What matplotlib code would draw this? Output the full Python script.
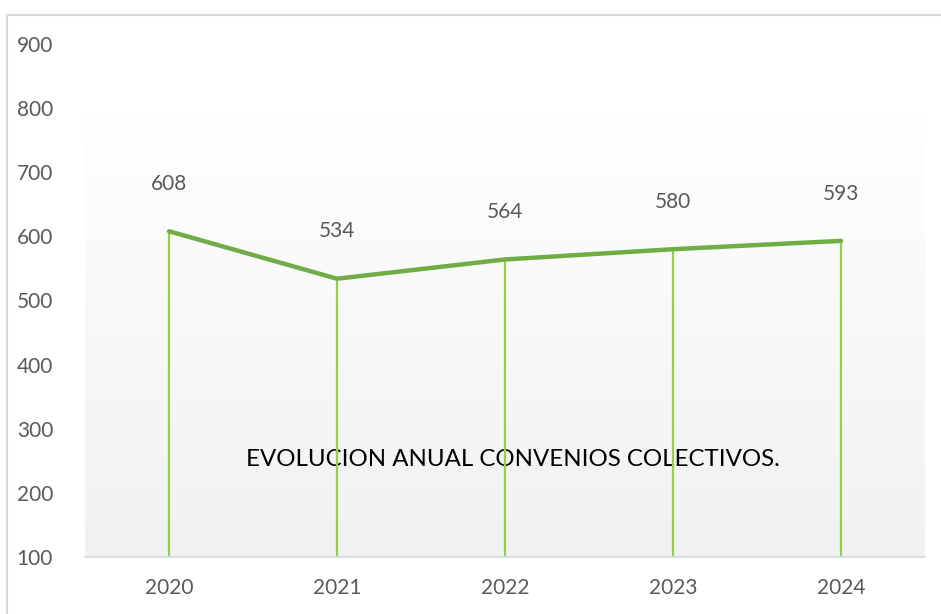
import matplotlib
matplotlib.use("Agg")
import matplotlib.pyplot as plt
import numpy as np
from matplotlib.patches import Rectangle
from matplotlib.colors import LinearSegmentedColormap

years = ["2020", "2021", "2022", "2023", "2024"]
values = [608, 534, 564, 580, 593]
yticks = [100, 200, 300, 400, 500, 600, 700, 800, 900]
title = "EVOLUCION ANUAL CONVENIOS COLECTIVOS."

W, H = 941, 614
fig = plt.figure(figsize=(W / 100, H / 100), dpi=100)
fig.patch.set_facecolor("white")

# outer chart border
fig.add_artist(Rectangle((7 / W, -0.1), 1.2, 1 - 15 / H + 0.1, transform=fig.transFigure,
                         fill=False, edgecolor="#d9d9d9", linewidth=1.5))

ax = fig.add_axes([85 / W, 1 - 557 / H, (925 - 85) / W, (557 - 44) / H])
ax.set_facecolor("none")
x = np.arange(len(years))
ax.set_xlim(-0.5, len(years) - 0.5)
ax.set_ylim(100, 900)

# gradient background
grad = np.linspace(0, 1, 256).reshape(-1, 1)
cmap = LinearSegmentedColormap.from_list("g", ["#f1f1f1", "#ffffff"])
ax.imshow(grad, extent=(-0.5, len(years) - 0.5, 100, 795), origin="lower",
          aspect="auto", cmap=cmap, zorder=0)

tick_font = ["Lato", "DejaVu Sans"]

# title inside plot
t = ax.text(2.05, 252, title, ha="center", va="center", color="black",
            fontsize=20, family=["Lato", "DejaVu Sans"], zorder=1)
fig.canvas.draw()
bb = t.get_window_extent()
t.set_fontsize(20 * 532 / bb.width)

# drop lines
ax.vlines(x, 100, values, color="#92D050", linewidth=1.6, zorder=2)
ax.plot(x, values, color="#70AD47", linewidth=3.2, zorder=3, solid_capstyle="round", solid_joinstyle="round")

for xi, v in zip(x, values):
    ax.annotate(str(v), (xi, v), xytext=(0, 34), textcoords="offset points",
                ha="center", va="center", color="#595959", fontsize=15, family=tick_font)

ax.set_xticks(x)
ax.set_xticklabels(years)
ax.set_yticks(yticks)
for lab in ax.get_xticklabels() + ax.get_yticklabels():
    lab.set_family(tick_font)
    lab.set_fontsize(15)
    lab.set_color("#595959")
ax.tick_params(axis="both", length=0)
ax.tick_params(axis="y", pad=23)
ax.tick_params(axis="x", pad=15)
for s in ["top", "right", "left"]:
    ax.spines[s].set_visible(False)
ax.spines["bottom"].set_color("#d9d9d9")
ax.spines["bottom"].set_linewidth(1.2)

fig.savefig("out.png", dpi=100)
